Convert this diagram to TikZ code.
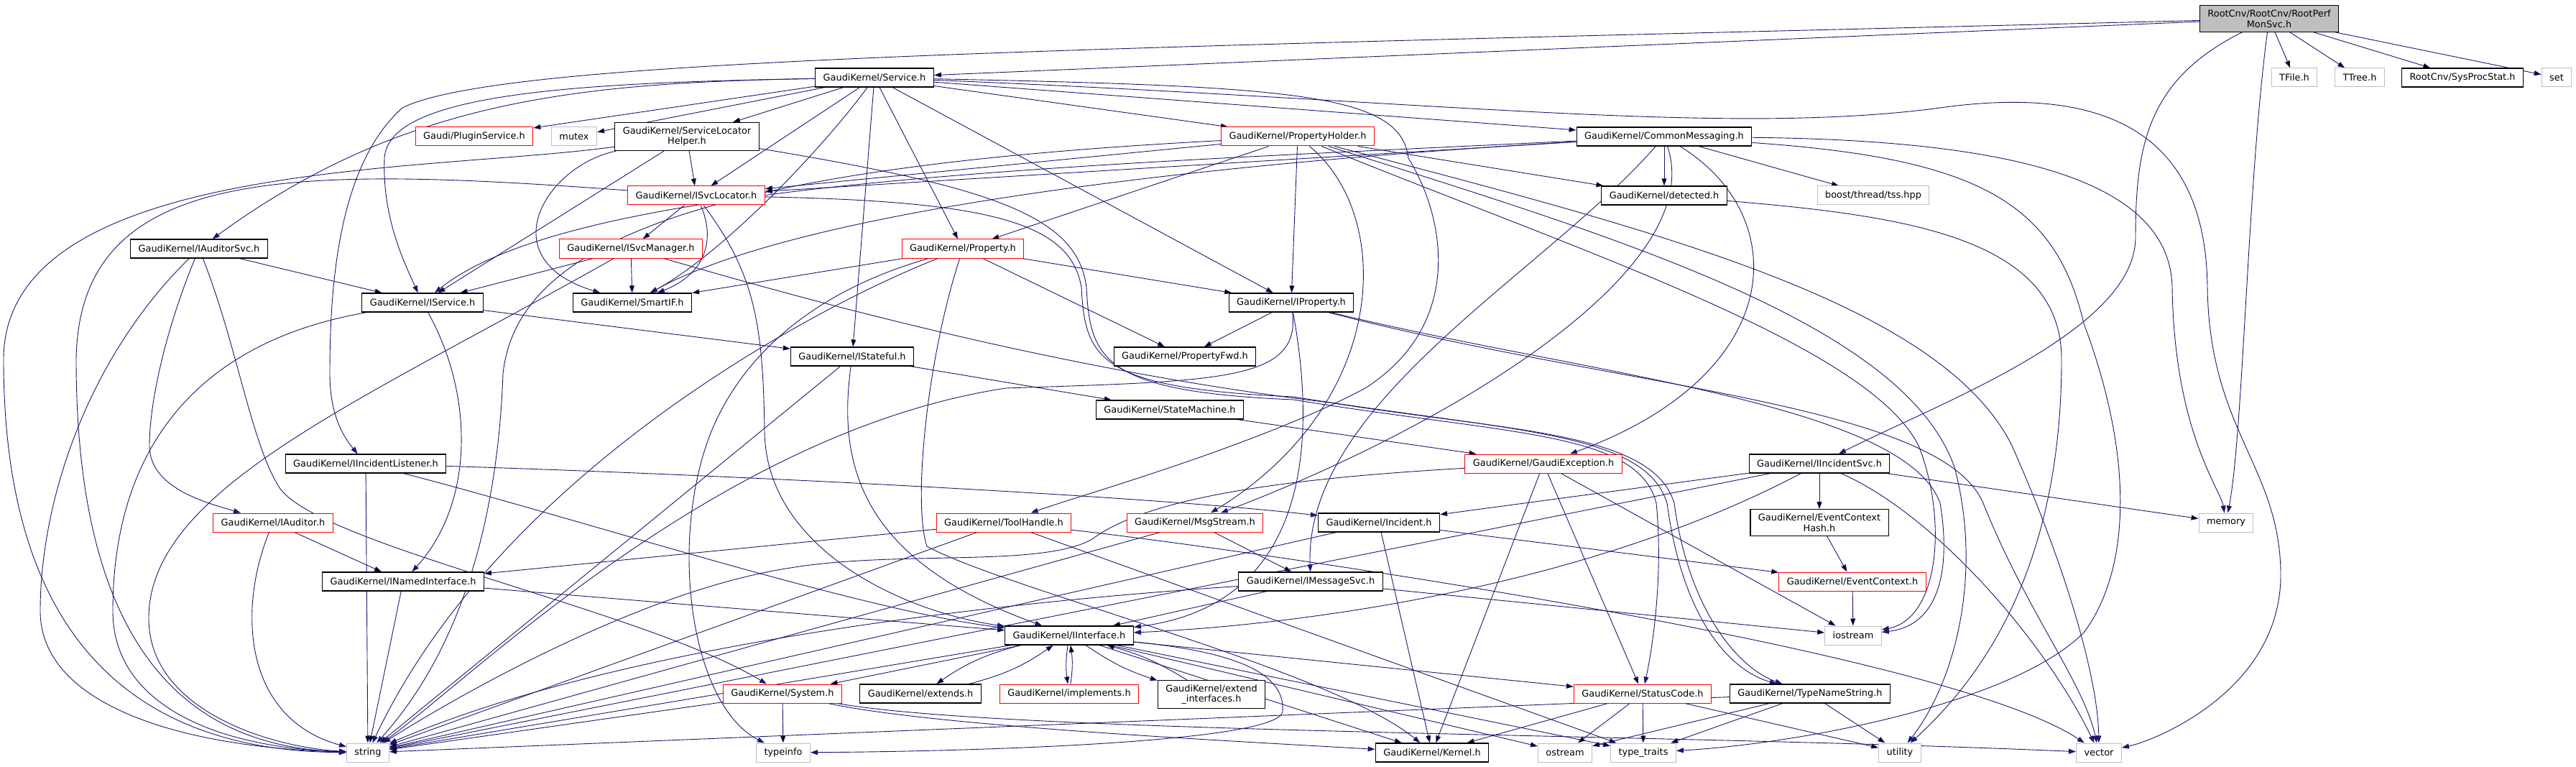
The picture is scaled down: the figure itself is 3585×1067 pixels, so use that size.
\documentclass[tikz,border=0pt]{standalone}
\usepackage{fontspec}
\setmainfont{DejaVu Sans}
\usetikzlibrary{arrows.meta,backgrounds}
\definecolor{edgeblue}{RGB}{25,25,112}
\definecolor{extgray}{RGB}{191,191,191}
\tikzset{doc node/.style={draw=black,line width=1.2pt,fill=white,inner xsep=11pt,inner ysep=6pt,minimum height=26pt,align=center,font=\fontsize{12.9}{14.5}\selectfont},
	red node/.style={doc node,draw=red,line width=1pt},
	ext node/.style={doc node,draw=extgray,line width=1pt},
	root node/.style={doc node,fill=extgray},
	dep/.style={draw=edgeblue,line width=0.9pt,-{Triangle[length=10pt,width=7pt]}},
}

\begin{document}
\begin{tikzpicture}[x=1pt,y=-1pt]
	\useasboundingbox (0,0) rectangle (3585,1067);
	\node[root node] (root) at (3158,26) {RootCnv/RootCnv/RootPerf\\MonSvc.h};
	\node[ext node] (tfile) at (3193,108) {TFile.h};
	\node[ext node] (ttree) at (3284,108) {TTree.h};
	\node[doc node] (sysproc) at (3427,108) {RootCnv/SysProcStat.h};
	\node[ext node] (set) at (3558,108) {set};
	\node[doc node] (service) at (1217,108) {GaudiKernel/Service.h};
	\node[red node] (plugin) at (660,190) {Gaudi/PluginService.h};
	\node[ext node] (mutex) at (799,190) {mutex};
	\node[doc node] (slh) at (956,190) {GaudiKernel/ServiceLocator\\Helper.h};
	\node[red node] (propholder) at (1806,190) {GaudiKernel/PropertyHolder.h};
	\node[doc node] (commsg) at (2316,190) {GaudiKernel/CommonMessaging.h};
	\node[red node] (isvcloc) at (969,272) {GaudiKernel/ISvcLocator.h};
	\node[doc node] (detected) at (2316,272) {GaudiKernel/detected.h};
	\node[ext node] (boosttss) at (2607,272) {boost/thread/tss.hpp};
	\node[doc node] (iauditorsvc) at (277,346) {GaudiKernel/IAuditorSvc.h};
	\node[red node] (isvcmgr) at (878,346) {GaudiKernel/ISvcManager.h};
	\node[red node] (property) at (1340,346) {GaudiKernel/Property.h};
	\node[doc node] (iservice) at (588,421) {GaudiKernel/IService.h};
	\node[doc node] (smartif) at (880,421) {GaudiKernel/SmartIF.h};
	\node[doc node] (iproperty) at (1797,421) {GaudiKernel/IProperty.h};
	\node[doc node] (istateful) at (1186,496) {GaudiKernel/IStateful.h};
	\node[doc node] (propfwd) at (1649,496) {GaudiKernel/PropertyFwd.h};
	\node[doc node] (statemachine) at (1628,570) {GaudiKernel/StateMachine.h};
	\node[doc node] (iincidentlistener) at (509,645) {GaudiKernel/IIncidentListener.h};
	\node[red node] (gaudiexc) at (2148,645) {GaudiKernel/GaudiException.h};
	\node[doc node] (iincidentsvc) at (2532,645) {GaudiKernel/IIncidentSvc.h};
	\node[red node] (iauditor) at (380,727) {GaudiKernel/IAuditor.h};
	\node[red node] (toolhandle) at (1397,727) {GaudiKernel/ToolHandle.h};
	\node[red node] (msgstream) at (1663,727) {GaudiKernel/MsgStream.h};
	\node[doc node] (incident) at (1919,727) {GaudiKernel/Incident.h};
	\node[doc node] (evctxhash) at (2532,727) {GaudiKernel/EventContext\\Hash.h};
	\node[ext node] (memory) at (3098,727) {memory};
	\node[doc node] (inamed) at (561,809) {GaudiKernel/INamedInterface.h};
	\node[doc node] (imsgsvc) at (1824,809) {GaudiKernel/IMessageSvc.h};
	\node[red node] (evctx) at (2578,809) {GaudiKernel/EventContext.h};
	\node[doc node] (iinterface) at (1488,884) {GaudiKernel/IInterface.h};
	\node[ext node] (iostream) at (2579,884) {iostream};
	\node[red node] (system) at (1089,965) {GaudiKernel/System.h};
	\node[doc node] (extends) at (1281,965) {GaudiKernel/extends.h};
	\node[red node] (implements) at (1488,965) {GaudiKernel/implements.h};
	\node[doc node] (extendif) at (1686,966) {GaudiKernel/extend\\\_interfaces.h};
	\node[red node] (statuscode) at (2286,965) {GaudiKernel/StatusCode.h};
	\node[doc node] (typename) at (2519,965) {GaudiKernel/TypeNameString.h};
	\node[ext node] (string) at (512,1047) {string};
	\node[ext node] (typeinfo) at (1090,1047) {typeinfo};
	\node[doc node] (kernel) at (1993,1047) {GaudiKernel/Kernel.h};
	\node[ext node] (ostream) at (2178,1047) {ostream};
	\node[ext node] (typetraits) at (2287,1047) {type\_traits};
	\node[ext node] (utility) at (2644,1047) {utility};
	\node[ext node] (vector) at (2921,1047) {vector};
	
	\begin{scope}[on background layer]
	\path[dep]
	(root) edge (service) edge (tfile) edge (ttree) edge (sysproc) edge (set);
	\draw[dep] (root) .. controls (1500,68) and (700,80) .. (560,150) .. controls (470,230) and (459,400) .. (459,520) .. controls (459,580) and (480,610) .. (iincidentlistener);
	\draw[dep] (root) .. controls (2990,110) and (2972,200) .. (2972,330) .. controls (2972,460) and (2700,560) .. (iincidentsvc);
	\draw[dep] (root) .. controls (3128,250) and (3122,600) .. (memory);
	
	\path[dep]
	(service) edge (plugin) edge (mutex) edge (slh) edge (isvcloc) edge (istateful)
	edge (property) edge (iproperty) edge (propholder) edge (commsg);
	\draw[dep] (service) .. controls (800,115) and (560,140) .. (iauditorsvc);
	\draw[dep] (service) .. controls (800,115) and (540,130) .. (535,220) .. controls (532,300) and (560,360) .. (iservice);
	\draw[dep] (service) .. controls (1150,200) and (1010,350) .. (smartif);
	\draw[dep] (service) .. controls (1800,120) and (1950,130) .. (1960,220) .. controls (2010,300) and (2040,450) .. (1900,540) .. controls (1750,620) and (1500,690) .. (toolhandle);
	\draw[dep] (service) .. controls (2000,140) and (2400,190) .. (2700,150) .. controls (2950,115) and (3070,200) .. (3072,400) .. controls (3075,600) and (3174,650) .. (3174,800) .. controls (3174,960) and (3000,1030) .. (vector);
	
	\path[dep]
	(slh) edge (isvcloc) edge (iservice);
	\draw[dep] (slh) .. controls (760,230) and (680,360) .. (smartif);
	\draw[dep] (slh) .. controls (600,240) and (5,220) .. (5,500) .. controls (5,950) and (250,1045) .. (string);
	\draw[dep] (slh) .. controls (1380,260) and (1500,300) .. (1512,400) .. controls (1517,500) and (1535,545) .. (1800,556) .. controls (2100,605) and (2280,600) .. (2305,700) .. controls (2315,800) and (2300,900) .. (statuscode);
	
	\path[dep]
	(isvcloc) edge (isvcmgr);
	\draw[dep] (isvcloc) .. controls (995,330) and (985,380) .. (smartif);
	\draw[dep] (isvcloc) .. controls (1050,380) and (1062,450) .. (1064,600) .. controls (1066,760) and (1250,850) .. (iinterface);
	\draw[dep] (isvcloc) .. controls (1380,280) and (1490,310) .. (1505,400) .. controls (1510,500) and (1530,540) .. (1800,552) .. controls (2100,600) and (2290,600) .. (2320,700) .. controls (2340,850) and (2400,930) .. (typename);
	\draw[dep] (isvcloc) .. controls (400,230) and (110,230) .. (106,500) .. controls (106,950) and (300,1040) .. (string);
	
	\path[dep]
	(isvcmgr) edge (iservice) edge (smartif);
	\draw[dep] (isvcmgr) .. controls (500,560) and (207,680) .. (207,860) .. controls (207,990) and (380,1040) .. (string);
	\draw[dep] (isvcmgr) .. controls (1300,470) and (1600,530) .. (1850,560) .. controls (2100,600) and (2300,600) .. (2330,700) .. controls (2350,850) and (2420,930) .. (typename);
	
	\path[dep]
	(iauditorsvc) edge (iservice);
	\draw[dep] (iauditorsvc) .. controls (120,500) and (56,700) .. (56,850) .. controls (56,980) and (250,1040) .. (string);
	\draw[dep] (iauditorsvc) .. controls (230,460) and (208,560) .. (208,620) .. controls (208,680) and (290,700) .. (iauditor);
	\draw[dep] (iauditorsvc) .. controls (330,480) and (350,620) .. (390,680) .. controls (450,760) and (900,850) .. (system);
	
	\path[dep]
	(iauditor) edge (inamed);
	\draw[dep] (iauditor) .. controls (330,850) and (340,1000) .. (string);
	
	\path[dep]
	(iservice) edge (istateful);
	\draw[dep] (iservice) .. controls (660,550) and (660,700) .. (inamed);
	\draw[dep] (iservice) .. controls (250,480) and (157,650) .. (157,850) .. controls (157,980) and (300,1040) .. (string);
	
	\path[dep]
	(inamed) edge (iinterface) edge (string);
	
	\path[dep]
	(istateful) edge (statemachine) edge (string);
	\draw[dep] (istateful) .. controls (1165,650) and (1200,780) .. (iinterface);
	
	\path[dep]
	(statemachine) edge (gaudiexc);
	
	\path[dep]
	(propholder) edge (isvcloc) edge (property) edge (iproperty) edge (detected);
	\draw[dep] (propholder) .. controls (1940,300) and (1935,560) .. (msgstream);
	\draw[dep] (propholder) .. controls (1000,232) and (720,330) .. (700,520) .. controls (690,800) and (600,950) .. (string);
	\draw[dep] (propholder) .. controls (2200,350) and (2600,480) .. (2670,620) .. controls (2710,720) and (2700,860) .. (iostream);
	\draw[dep] (propholder) .. controls (2250,330) and (2650,450) .. (2720,650) .. controls (2760,800) and (2720,950) .. (utility);
	\draw[dep] (propholder) .. controls (2300,320) and (2700,420) .. (2800,620) .. controls (2880,800) and (2920,950) .. (vector);
	
	\path[dep]
	(commsg) edge (isvcloc) edge (detected) edge (boosttss);
	\draw[dep] (commsg) .. controls (1600,232) and (1100,300) .. (smartif);
	\draw[dep] (commsg) .. controls (1500,230) and (800,250) .. (iservice);
	\draw[dep] (commsg) .. controls (2150,380) and (1815,560) .. (imsgsvc);
	\draw[dep] (commsg) .. controls (2495,300) and (2490,520) .. (gaudiexc);
	\draw[dep] (commsg) .. controls (2380,380) and (2000,600) .. (msgstream);
	\draw[dep] (commsg) .. controls (2800,195) and (3020,250) .. (3023,400) .. controls (3026,600) and (3090,680) .. (memory);
	\draw[dep] (commsg) .. controls (2750,220) and (2860,280) .. (2900,450) .. controls (2975,650) and (2960,800) .. (2900,880) .. controls (2800,980) and (2500,1035) .. (typetraits);
	
	\draw[dep] (detected) .. controls (2650,300) and (2869,330) .. (2869,500) .. controls (2869,800) and (2750,950) .. (utility);
	
	\path[dep]
	(property) edge (iproperty) edge (propfwd) edge (smartif);
	\draw[dep] (property) .. controls (1150,420) and (700,650) .. (string);
	\draw[dep] (property) .. controls (1150,400) and (1040,480) .. (990,600) .. controls (930,750) and (960,980) .. (typeinfo);
	\draw[dep] (property) .. controls (1290,500) and (1270,700) .. (1290,760) .. controls (1400,820) and (1850,930) .. (kernel);
	
	\path[dep]
	(iproperty) edge (propfwd);
	\draw[dep] (iproperty) .. controls (1830,600) and (1830,840) .. (iinterface);
	\draw[dep] (iproperty) .. controls (1810,530) and (1700,530) .. (1400,540) .. controls (1000,600) and (650,950) .. (string);
	\draw[dep] (iproperty) .. controls (2200,520) and (2650,560) .. (2700,700) .. controls (2715,790) and (2700,870) .. (iostream);
	\draw[dep] (iproperty) .. controls (2250,540) and (2700,560) .. (2760,700) .. controls (2820,850) and (2900,950) .. (vector);
	
	\path[dep]
	(gaudiexc) edge (kernel) edge (statuscode) edge (iostream);
	\draw[dep] (gaudiexc) .. controls (1800,665) and (1600,690) .. (1520,750) .. controls (1450,790) and (1250,765) .. (1100,790) .. controls (900,820) and (650,960) .. (string);
	
	\path[dep]
	(iincidentlistener) edge (string);
	\draw[dep] (iincidentlistener) .. controls (1000,660) and (1600,690) .. (incident);
	\draw[dep] (iincidentlistener) .. controls (800,720) and (1200,850) .. (iinterface);
	
	\path[dep]
	(iincidentsvc) edge (evctxhash) edge (incident) edge (string) edge (memory);
	\draw[dep] (iincidentsvc) .. controls (2200,820) and (1800,870) .. (iinterface);
	\draw[dep] (iincidentsvc) .. controls (2700,720) and (2850,900) .. (vector);
	
	\path[dep]
	(evctxhash) edge (evctx)
	(evctx) edge (iostream)
	(incident) edge (evctx) edge (kernel) edge (string);
	
	\path[dep]
	(toolhandle) edge (inamed) edge (string) edge (typetraits);
	\draw[dep] (toolhandle) .. controls (1700,760) and (2700,900) .. (vector);
	
	\path[dep]
	(msgstream) edge (imsgsvc) edge (string)
	(imsgsvc) edge (iinterface) edge (iostream);
	\draw[dep] (imsgsvc) .. controls (1500,830) and (900,880) .. (string);
	
	\path[dep]
	(iinterface) edge (system) edge[bend right=10] (extends) edge[bend right=8] (implements)
	edge[bend right=8] (extendif) edge (statuscode) edge (kernel) edge (ostream)
	edge (typetraits) edge (string)
	(extends) edge[bend right=10] (iinterface)
	(implements) edge[bend right=8] (iinterface)
	(extendif) edge[bend right=8] (iinterface);
	\draw[dep] (iinterface) .. controls (1700,905) and (1790,930) .. (1785,990) .. controls (1780,1030) and (1400,1045) .. (typeinfo);
	
	\path[dep]
	(system) edge (typeinfo) edge (string);
	\draw[dep] (system) .. controls (1300,1010) and (1700,1030) .. (kernel);
	\draw[dep] (system) .. controls (1400,1020) and (2300,1020) .. (vector);
	
	\path[dep]
	(statuscode) edge (kernel) edge (ostream) edge (typetraits) edge (utility)
	(typename) edge (string) edge (ostream) edge (typetraits) edge (utility);
	\end{scope}
\end{tikzpicture}
\end{document}
